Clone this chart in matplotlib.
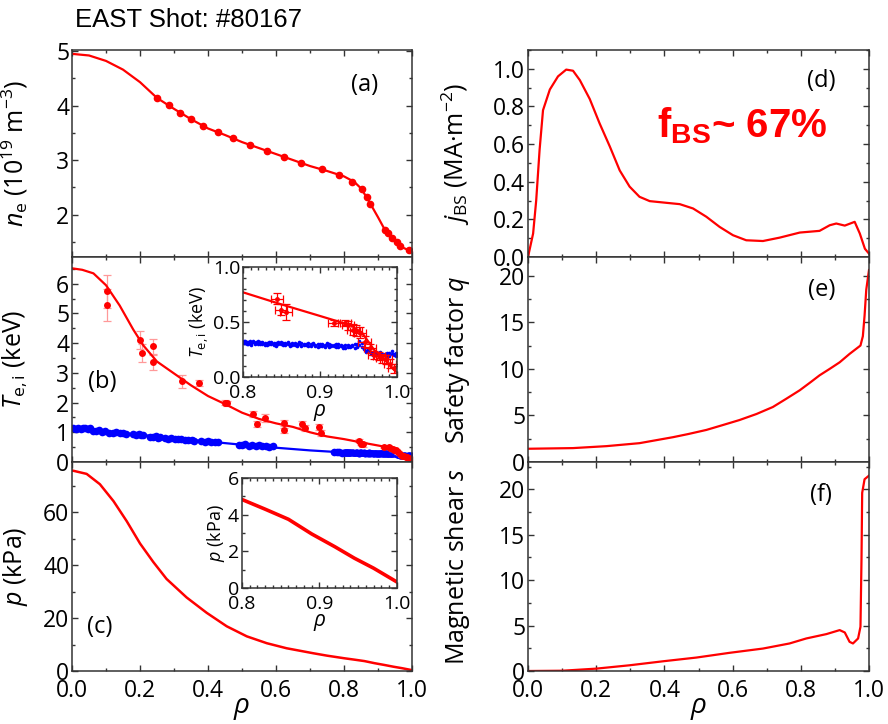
import numpy as np
import matplotlib
matplotlib.use('Agg')
import matplotlib.pyplot as plt
from matplotlib.ticker import MultipleLocator

plt.rcParams['font.family'] = ['Open Sans', 'DejaVu Sans']
plt.rcParams['mathtext.fontset'] = 'custom'
plt.rcParams['mathtext.rm'] = 'Open Sans'
plt.rcParams['mathtext.it'] = 'Open Sans:italic'
plt.rcParams['mathtext.bf'] = 'Liberation Sans:bold'

RED = '#ff0000'
BLUE = '#0000ff'

# (a) electron density
ne_fit_rho = [0.0, 0.05, 0.1, 0.15, 0.2, 0.25, 0.3, 0.35, 0.4, 0.45, 0.5, 0.55, 0.6,
              0.65, 0.7, 0.75, 0.8, 0.83, 0.85, 0.87, 0.9, 0.92, 0.95, 0.97, 1.0]
ne_fit = [4.95, 4.92, 4.82, 4.66, 4.43, 4.14, 3.94, 3.75, 3.58, 3.46, 3.33, 3.22, 3.11,
          3.00, 2.89, 2.80, 2.70, 2.60, 2.48, 2.28, 1.95, 1.72, 1.50, 1.40, 1.32]
ne_rho = [0.249, 0.285, 0.318, 0.35, 0.386, 0.428, 0.473, 0.522, 0.573, 0.622, 0.674,
          0.734, 0.786, 0.823, 0.852, 0.867, 0.875, 0.921, 0.930, 0.940, 0.955, 0.965, 0.992]
ne_val = [4.14, 4.01, 3.87, 3.75, 3.62, 3.51, 3.40, 3.28, 3.17, 3.06, 2.94,
          2.83, 2.72, 2.60, 2.47, 2.33, 2.20, 1.72, 1.66, 1.57, 1.49, 1.42, 1.34]

# (b) electron temperature
te_fit_rho = [0.0, 0.03, 0.063, 0.1, 0.14, 0.18, 0.21, 0.25, 0.3, 0.35, 0.4, 0.45, 0.5,
              0.55, 0.6, 0.65, 0.7, 0.75, 0.8, 0.85, 0.9, 0.94, 0.955, 0.97, 0.985, 1.0]
te_fit = [6.52, 6.47, 6.35, 5.95, 5.27, 4.46, 3.92, 3.38, 2.98, 2.58, 2.22, 1.95, 1.66,
          1.45, 1.30, 1.18, 1.00, 0.86, 0.77, 0.66, 0.555, 0.47, 0.40, 0.25, 0.15, 0.04]
te_rho = [0.102, 0.104, 0.200, 0.205, 0.237, 0.238, 0.323, 0.373, 0.450, 0.455, 0.533,
          0.543, 0.568, 0.622, 0.624, 0.675, 0.685, 0.725, 0.731]
te_val = [5.75, 5.28, 4.12, 3.67, 3.90, 3.36, 2.72, 2.66, 1.99, 1.97, 1.60,
          1.28, 1.48, 1.31, 1.06, 1.29, 1.15, 1.18, 0.98]
te_err = [0.55, 0.55, 0.30, 0.30, 0.25, 0.25, 0.22, 0.10, 0.08, 0.08, 0.10,
          0.10, 0.12, 0.10, 0.10, 0.10, 0.10, 0.10, 0.10]
# edge Te (also shown in the inset)
te_edge_rho = [0.844, 0.849, 0.856, 0.918, 0.932, 0.936, 0.943, 0.947, 0.952, 0.958,
               0.965, 0.970, 0.977, 0.981, 0.986, 0.991, 0.996]
te_edge_val = [0.71, 0.61, 0.59, 0.49, 0.49, 0.47, 0.43, 0.42, 0.40, 0.32,
               0.26, 0.20, 0.19, 0.17, 0.16, 0.12, 0.08]
te_edge_yerr = [0.05, 0.05, 0.07, 0.03, 0.03, 0.04, 0.05, 0.05, 0.05, 0.05,
                0.04, 0.04, 0.04, 0.04, 0.04, 0.04, 0.04]
te_edge_xerr = [0.008, 0.008, 0.008, 0.008, 0.008, 0.008, 0.008, 0.008, 0.008, 0.008,
                0.008, 0.008, 0.008, 0.008, 0.008, 0.008, 0.008]

# ion temperature
ti_fit_rho = [0.0, 0.1, 0.2, 0.3, 0.4, 0.5, 0.6, 0.7, 0.8, 0.9, 0.95, 1.0]
ti_fit = [1.16, 1.03, 0.92, 0.80, 0.69, 0.58, 0.48, 0.39, 0.32, 0.28, 0.26, 0.18]
ti_rho = [0.004, 0.011, 0.018, 0.025, 0.032, 0.039, 0.046, 0.052,
          0.062, 0.071, 0.080, 0.089, 0.096,
          0.110, 0.120, 0.130, 0.140, 0.150, 0.159,
          0.180, 0.188, 0.196, 0.204, 0.210,
          0.230, 0.238, 0.246, 0.254, 0.260,
          0.272, 0.282, 0.292, 0.302, 0.312, 0.320,
          0.332, 0.342, 0.352, 0.360,
          0.380, 0.390, 0.400, 0.410, 0.420, 0.430,
          0.490, 0.500, 0.510, 0.520, 0.530, 0.540, 0.550, 0.560, 0.570, 0.580, 0.590,
          0.770, 0.778, 0.786, 0.794]
ti_val = [1.14, 1.12, 1.16, 1.11, 1.15, 1.13, 1.10, 1.14,
          1.05, 1.03, 1.06, 1.02, 1.04,
          0.99, 0.97, 1.00, 0.96, 0.98, 0.95,
          0.93, 0.91, 0.94, 0.90, 0.92,
          0.85, 0.83, 0.86, 0.82, 0.84,
          0.80, 0.78, 0.81, 0.77, 0.79, 0.76,
          0.75, 0.73, 0.74, 0.72,
          0.70, 0.68, 0.69, 0.66, 0.68, 0.66,
          0.58, 0.56, 0.59, 0.55, 0.57, 0.54, 0.56, 0.53, 0.55, 0.52, 0.54,
          0.34, 0.32, 0.35, 0.31]
ti_edge_rho = [0.801, 0.803, 0.805, 0.807, 0.809, 0.811, 0.813, 0.815, 0.817, 0.819,
               0.822, 0.825, 0.828, 0.831, 0.834, 0.837, 0.840, 0.843, 0.846, 0.849,
               0.852, 0.855, 0.858, 0.861, 0.864, 0.867, 0.870, 0.873, 0.876, 0.879,
               0.882, 0.885, 0.888, 0.891, 0.894, 0.897, 0.900, 0.903, 0.906, 0.909,
               0.912, 0.915, 0.918, 0.921, 0.924, 0.927, 0.930, 0.933, 0.936, 0.939,
               0.942, 0.945, 0.948, 0.951, 0.954, 0.957, 0.960, 0.963, 0.966, 0.969,
               0.972, 0.975, 0.978, 0.981, 0.984, 0.987, 0.990, 0.993, 0.996, 0.999]
ti_edge_a = [0.33, 0.31, 0.32, 0.30, 0.33, 0.31, 0.32, 0.30, 0.31, 0.33,
             0.30, 0.32, 0.29, 0.31, 0.30, 0.32, 0.29, 0.31, 0.30, 0.32,
             0.29, 0.31, 0.30, 0.28, 0.31, 0.29, 0.30, 0.32, 0.28, 0.30,
             0.29, 0.31, 0.28, 0.30, 0.29, 0.27, 0.30, 0.28, 0.29, 0.31,
             0.27, 0.29, 0.28, 0.30, 0.27, 0.29, 0.28, 0.26, 0.29, 0.27,
             0.28, 0.30, 0.27, 0.29, 0.31, 0.26, 0.24, 0.25, 0.22, 0.23,
             0.21, 0.22, 0.19, 0.21, 0.20, 0.22, 0.19, 0.21, 0.20, 0.22]
ti_edge_b = [0.31, 0.33, 0.30, 0.32, 0.31, 0.29, 0.33, 0.31, 0.32, 0.30,
             0.32, 0.30, 0.31, 0.29, 0.32, 0.30, 0.31, 0.28, 0.32, 0.30,
             0.31, 0.29, 0.32, 0.30, 0.29, 0.31, 0.28, 0.30, 0.31, 0.29,
             0.30, 0.28, 0.30, 0.31, 0.28, 0.30, 0.28, 0.30, 0.27, 0.29,
             0.30, 0.28, 0.29, 0.27, 0.30, 0.28, 0.26, 0.29, 0.27, 0.28,
             0.29, 0.26, 0.30, 0.33, 0.27, 0.25, 0.23, 0.24, 0.21, 0.20,
             0.22, 0.20, 0.23, 0.19, 0.21, 0.18, 0.22, 0.24, 0.21, 0.19]

# (c) pressure
p_rho = [0.0, 0.043, 0.082, 0.122, 0.161, 0.2, 0.239, 0.278, 0.337, 0.396, 0.455, 0.514,
         0.573, 0.631, 0.71, 0.75, 0.8, 0.83, 0.86, 0.89, 0.92, 0.945, 0.97, 1.0]
p_val = [75.8, 74.5, 70.6, 64.2, 56.6, 48.2, 41.2, 34.8, 27.8, 22.0, 16.9, 13.1,
         10.5, 8.6, 6.7, 5.8, 4.83, 4.3, 3.75, 2.95, 2.25, 1.63, 1.08, 0.33]

# (d) bootstrap current density
jbs_rho = [0.0, 0.015, 0.024, 0.034, 0.044, 0.064, 0.088, 0.112, 0.132, 0.152, 0.181,
           0.21, 0.24, 0.269, 0.298, 0.327, 0.357, 0.406, 0.445, 0.484, 0.523, 0.562,
           0.601, 0.64, 0.689, 0.738, 0.797, 0.855, 0.885, 0.904, 0.929, 0.958, 0.973,
           0.988, 1.0]
jbs_val = [0.0, 0.125, 0.30, 0.57, 0.78, 0.89, 0.96, 0.996, 0.99, 0.94, 0.84,
           0.71, 0.587, 0.46, 0.374, 0.32, 0.297, 0.288, 0.281, 0.258, 0.214, 0.16,
           0.116, 0.089, 0.085, 0.103, 0.13, 0.139, 0.169, 0.178, 0.167, 0.187, 0.125,
           0.044, 0.018]

# (e) safety factor
q_rho = [0.0, 0.132, 0.23, 0.327, 0.425, 0.47, 0.523, 0.57, 0.62, 0.67, 0.718, 0.758,
         0.797, 0.83, 0.855, 0.885, 0.914, 0.943, 0.975, 0.982, 0.987, 0.992, 1.0]
q_val = [1.42, 1.49, 1.70, 2.02, 2.66, 3.0, 3.44, 3.95, 4.5, 5.15, 5.9, 6.8,
         7.7, 8.6, 9.3, 10.0, 10.7, 11.6, 12.5, 13.5, 15.7, 18.5, 20.6]

# (f) magnetic shear
s_rho = [0.0, 0.1, 0.2, 0.298, 0.396, 0.494, 0.591, 0.689, 0.767, 0.816, 0.875, 0.914,
         0.929, 0.943, 0.953, 0.968, 0.975, 0.978, 0.98, 0.987, 1.0]
s_val = [0.0, 0.03, 0.26, 0.63, 1.07, 1.48, 2.0, 2.47, 3.03, 3.58, 4.06, 4.5,
         4.24, 3.21, 3.03, 3.58, 4.87, 12.25, 19.6, 21.1, 21.5]


def style_axis(ax, ymaj, ymin, xmaj=0.2, xmin=0.1, size=16.5, length=4.5, xpad=6):
    ax.xaxis.set_major_locator(MultipleLocator(xmaj))
    ax.xaxis.set_minor_locator(MultipleLocator(xmin))
    ax.yaxis.set_major_locator(MultipleLocator(ymaj))
    ax.yaxis.set_minor_locator(MultipleLocator(ymin))
    ax.tick_params(which='both', direction='in', top=True, right=True,
                   labelsize=size, width=1.0, color='#333333', pad=2)
    ax.tick_params(axis='x', pad=xpad)
    ax.tick_params(which='major', length=length)
    ax.tick_params(which='minor', length=length * 0.55)
    for sp in ax.spines.values():
        sp.set_linewidth(1.1)
        sp.set_color('#333333')


fig = plt.figure(figsize=(8.88, 7.24), dpi=100)

L, W = 0.0811, 0.3829
R, WR = 0.5946, 0.3840
rows = [(0.645, 0.2859), (0.3619, 0.2831), (0.0732, 0.2887)]

ax_a = fig.add_axes([L, rows[0][0], W, rows[0][1]])
ax_b = fig.add_axes([L, rows[1][0], W, rows[1][1]])
ax_c = fig.add_axes([L, rows[2][0], W, rows[2][1]])
ax_d = fig.add_axes([R, rows[0][0], WR, rows[0][1]])
ax_e = fig.add_axes([R, rows[1][0], WR, rows[1][1]])
ax_f = fig.add_axes([R, rows[2][0], WR, rows[2][1]])

# (a)
ax_a.plot(ne_fit_rho, ne_fit, color=RED, lw=1.6)
ax_a.plot(ne_rho, ne_val, 'o', color=RED, ms=4.5)
ax_a.set_ylim(1.22, 5.02)
style_axis(ax_a, 1, 0.5)
ax_a.set_ylabel('$n_\\mathrm{e}$ (10$^{19}$ m$^{-3}$)', fontsize=18)
ax_a.text(0.86, 0.83, '(a)', transform=ax_a.transAxes, fontsize=17, ha='center', va='center')

# (b)
ax_b.plot(ti_rho, ti_val, 'o', color=BLUE, ms=5.5, mec='none')
ax_b.plot(ti_edge_rho, ti_edge_a, 'o', color=BLUE, ms=4.5, mec='none')
ax_b.plot(ti_edge_rho, ti_edge_b, 'o', color=BLUE, ms=4.5, mec='none')
ax_b.plot(ti_fit_rho, ti_fit, color=BLUE, lw=1.6)
ax_b.errorbar(te_rho, te_val, yerr=te_err, fmt='none', ecolor='#ff9999', elinewidth=0.9,
              capsize=3, capthick=0.9)
ax_b.errorbar(te_edge_rho, te_edge_val, yerr=te_edge_yerr, fmt='none', ecolor='#ff9999',
              elinewidth=0.9, capsize=3, capthick=0.9)
ax_b.plot(te_fit_rho, te_fit, color=RED, lw=1.6)
ax_b.plot(te_rho, te_val, 'o', color=RED, ms=5, mec='none')
ax_b.plot(te_edge_rho, te_edge_val, 'o', color=RED, ms=5, mec='none')
ax_b.set_ylim(0, 6.9)
style_axis(ax_b, 1, 0.5)
ax_b.set_ylabel('$T_\\mathrm{e,i}$ (keV)', fontsize=18)
ax_b.text(0.088, 0.39, '(b)', transform=ax_b.transAxes, fontsize=17, ha='center', va='center')

ins_b = fig.add_axes([0.2736, 0.4793, 0.1734, 0.1519])
ins_b.plot(ti_edge_rho, ti_edge_a, 'o', color=BLUE, ms=2.6, mec='none')
ins_b.plot(ti_edge_rho, ti_edge_b, 'o', color=BLUE, ms=2.6, mec='none')
ins_b.plot(te_fit_rho, te_fit, color=RED, lw=1.6)
ins_b.errorbar(te_edge_rho, te_edge_val, yerr=te_edge_yerr, xerr=te_edge_xerr, fmt='o',
               color=RED, ms=3.5, mec='none', elinewidth=0.9, capsize=3, capthick=0.9)
ins_b.set_xlim(0.8, 1.0)
ins_b.set_ylim(0, 1.0)
style_axis(ins_b, 0.5, 0.1, xmaj=0.1, xmin=0.01, size=14, length=4, xpad=5)
ins_b.set_ylabel('$T_\\mathrm{e,i}$ (keV)', fontsize=13, labelpad=1)
ins_b.set_xlabel('$\\rho$', fontsize=15, labelpad=0)

# (c)
ax_c.plot(p_rho, p_val, color=RED, lw=1.8)
ax_c.set_ylim(0, 79)
style_axis(ax_c, 20, 10)
ax_c.set_ylabel('$p$ (kPa)', fontsize=18)
ax_c.set_xlabel('$\\rho$', fontsize=20, labelpad=-7)
ax_c.text(0.08, 0.21, '(c)', transform=ax_c.transAxes, fontsize=17, ha='center', va='center')

ins_c = fig.add_axes([0.2725, 0.1878, 0.1745, 0.1519])
ins_c.plot(p_rho, p_val, color=RED, lw=2.6)
ins_c.set_xlim(0.8, 1.0)
ins_c.set_ylim(0, 6)
style_axis(ins_c, 2, 1, xmaj=0.1, xmin=0.01, size=14, length=4, xpad=5)
ins_c.set_ylabel('$p$ (kPa)', fontsize=13, labelpad=1)
ins_c.set_xlabel('$\\rho$', fontsize=15, labelpad=-1)

# (d)
ax_d.plot(jbs_rho, jbs_val, color=RED, lw=1.6)
ax_d.set_ylim(0, 1.1)
style_axis(ax_d, 0.2, 0.1)
ax_d.set_ylabel('$j_\\mathrm{BS}$ (MA\u00b7m$^{-2}$)', fontsize=18)
ax_d.text(0.86, 0.85, '(d)', transform=ax_d.transAxes, fontsize=17, ha='center', va='center')
ax_d.text(0.378, 0.58, 'f$_{\\mathbf{BS}}$~ 67%', transform=ax_d.transAxes, color=RED,
          fontsize=29, fontweight='bold', family='Liberation Sans', va='baseline')

# (e)
ax_e.plot(q_rho, q_val, color=RED, lw=1.6)
ax_e.set_ylim(0, 22)
style_axis(ax_e, 5, 2.5)
ax_e.set_ylabel('Safety factor $q$', fontsize=18)
ax_e.text(0.86, 0.84, '(e)', transform=ax_e.transAxes, fontsize=17, ha='center', va='center')

# (f)
ax_f.plot(s_rho, s_val, color=RED, lw=1.6)
ax_f.set_ylim(0, 23)
style_axis(ax_f, 5, 2.5)
ax_f.set_ylabel('Magnetic shear $s$', fontsize=18)
ax_f.set_xlabel('$\\rho$', fontsize=20, labelpad=-7)
ax_f.text(0.86, 0.84, '(f)', transform=ax_f.transAxes, fontsize=17, ha='center', va='center')

for ax in (ax_a, ax_b, ax_c, ax_d, ax_e, ax_f):
    ax.set_xlim(0, 1.0)
for ax in (ax_a, ax_b, ax_d, ax_e):
    ax.tick_params(labelbottom=False)
for ax in (ax_a, ax_b, ax_c):
    ax.yaxis.set_label_coords(-0.125, 0.5)
for ax in (ax_d, ax_e, ax_f):
    ax.yaxis.set_label_coords(-0.165, 0.5)

fig.text(0.084, 0.972, 'EAST Shot: #80167', family='Liberation Sans', fontsize=18.5,
         ha='left', va='center')

plt.savefig('out.png', dpi=100)
